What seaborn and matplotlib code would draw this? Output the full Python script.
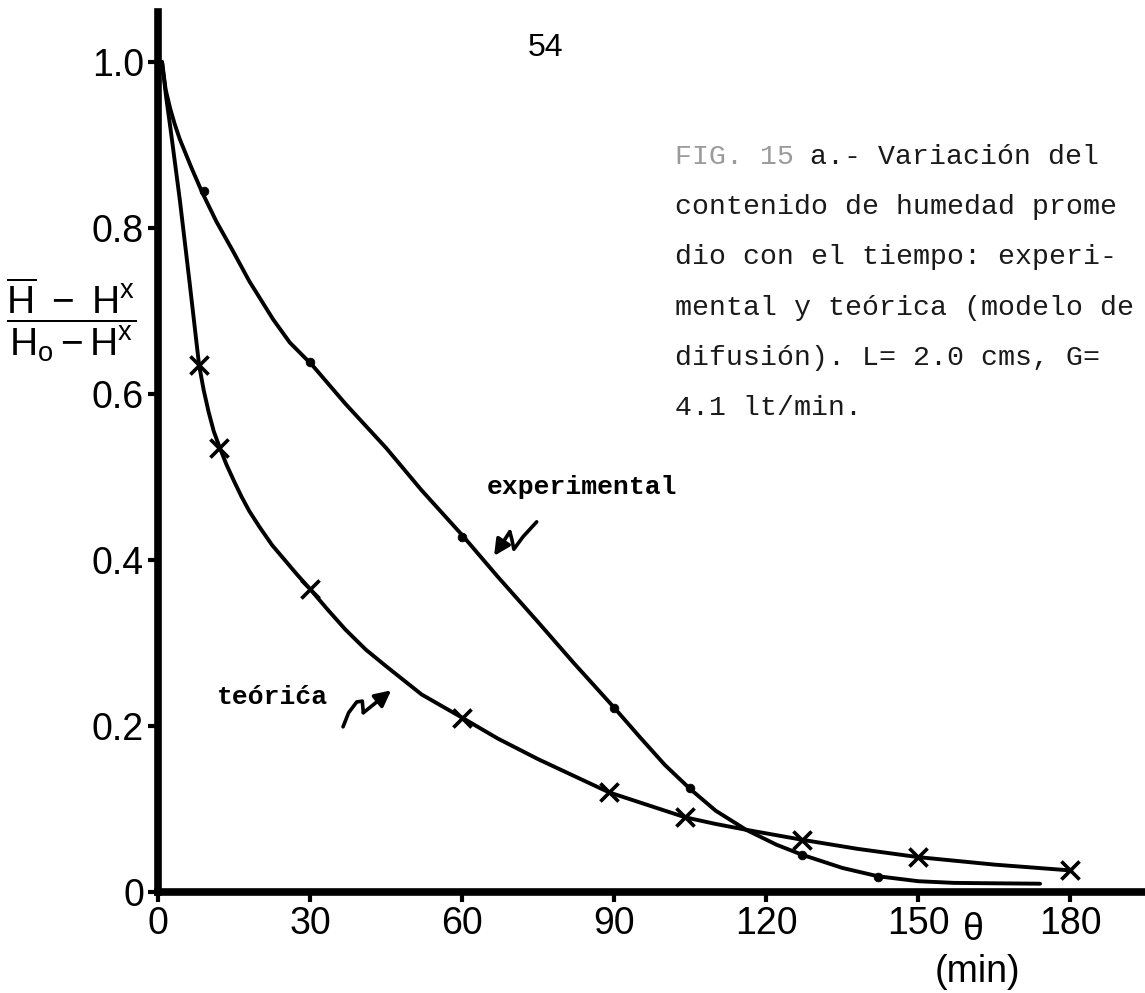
import matplotlib
matplotlib.use("Agg")
import matplotlib.pyplot as plt
import seaborn as sns

# ---------------- data ----------------
# experimental points (dots)
exp_t = [9, 30, 60, 90, 105, 127, 142]
exp_y = [0.845, 0.638, 0.428, 0.222, 0.125, 0.045, 0.018]
# hand-drawn experimental curve
exp_curve_t = [0.8, 1.5, 2.4, 3.3, 4.3, 6.5, 8.7, 11.5, 14.8, 18, 22.7, 26, 30.4,
               37, 45, 52, 60, 67, 75, 82, 90, 95, 100, 105, 110, 116, 122, 127,
               135, 142, 150, 157, 165, 174]
exp_curve_y = [1.0, 0.967, 0.944, 0.925, 0.907, 0.874, 0.843, 0.808, 0.772, 0.736,
               0.69, 0.662, 0.635, 0.588, 0.535, 0.484, 0.43, 0.38, 0.325, 0.276,
               0.222, 0.187, 0.153, 0.124, 0.098, 0.075, 0.057, 0.045, 0.029,
               0.019, 0.013, 0.011, 0.0105, 0.01]

# theoretical points (crosses)
teo_t = [8, 12, 30, 60, 89, 104, 127, 150, 180]
teo_y = [0.635, 0.535, 0.365, 0.21, 0.12, 0.09, 0.063, 0.042, 0.026]
# hand-drawn theoretical curve
teo_curve_t = [0.8, 1.6, 2.5, 4.3, 6.2, 8.1, 9, 10, 11, 12.2, 13.5, 15, 16.5, 18,
               20, 22.5, 25, 27.5, 30, 33.5, 37, 41, 45, 52, 60, 67, 75, 82, 89,
               97, 104, 110, 116, 127, 138, 150, 165, 180]
teo_curve_y = [1.0, 0.958, 0.918, 0.834, 0.736, 0.635, 0.605, 0.578, 0.555,
               0.535, 0.515, 0.495, 0.476, 0.459, 0.44, 0.418, 0.40, 0.382, 0.365,
               0.34, 0.316, 0.292, 0.272, 0.238, 0.21, 0.185, 0.16, 0.14, 0.12,
               0.104, 0.09, 0.082, 0.075, 0.063, 0.052, 0.042, 0.033, 0.026]

x_ticks = [0, 30, 60, 90, 120, 150, 180]
x_tick_labels = ["0", "30", "60", "90", "120", "150", "180"]
y_ticks = [0, 0.2, 0.4, 0.6, 0.8, 1.0]
y_tick_labels = ["0", "0.2", "0.4", "0.6", "0.8", "1.0"]

caption_fig = "FIG. 15"
caption_first = "a.- Variación del"
caption_lines = [
    "contenido de humedad prome",
    "dio con el tiempo: experi-",
    "mental y teórica (modelo de",
    "difusión). L= 2.0 cms, G=",
    "4.1 lt/min.",
]

# squiggly pointer arrows (annotation decorations)
exp_arrow_t = [74.7, 72.0, 70.2, 69.8, 69.4, 66.3]
exp_arrow_y = [0.446, 0.428, 0.413, 0.425, 0.434, 0.405]
teo_arrow_t = [36.5, 37.6, 39.2, 40.3, 40.5, 46.0]
teo_arrow_y = [0.199, 0.216, 0.229, 0.230, 0.216, 0.243]

# ---------------- drawing ----------------
sns.set_theme(style="ticks")
sans = ["Liberation Sans Narrow", "Liberation Sans", "DejaVu Sans"]
mono = ["Liberation Mono", "DejaVu Sans Mono"]
plt.rcParams["font.family"] = sans
plt.rcParams["mathtext.fontset"] = "custom"
plt.rcParams["mathtext.rm"] = "Liberation Sans"
plt.rcParams["mathtext.it"] = "Liberation Sans"

W, H = 1145, 993
fig = plt.figure(figsize=(W / 100, H / 100), dpi=100)
fig.patch.set_facecolor("white")
ax = fig.add_axes([0.138, 0.1017, 0.862, 0.886])
ax.set_facecolor("white")

sns.lineplot(x=exp_curve_t, y=exp_curve_y, sort=False, estimator=None,
             color="black", lw=2.8, ax=ax)
sns.lineplot(x=teo_curve_t, y=teo_curve_y, sort=False, estimator=None,
             color="black", lw=2.8, ax=ax)
sns.scatterplot(x=exp_t, y=exp_y, marker="o", s=40, color="black",
                edgecolor="black", ax=ax, zorder=3)
sns.scatterplot(x=teo_t, y=teo_y, marker="x", s=170, color="black",
                linewidth=2.6, ax=ax, zorder=3)

ax.set_xlim(0, 194.7)
ax.set_ylim(0, 1.06)
ax.set_xticks(x_ticks)
ax.set_xticklabels(x_tick_labels)
ax.set_yticks(y_ticks)
ax.set_yticklabels(y_tick_labels)
ax.tick_params(axis="both", direction="out", length=7, width=3, color="black",
               labelsize=27, pad=3, labelcolor="black")
for lab in ax.get_xticklabels() + ax.get_yticklabels():
    lab.set_family(sans)
for side in ["top", "right"]:
    ax.spines[side].set_visible(False)
for side in ["left", "bottom"]:
    ax.spines[side].set_linewidth(5.5)
    ax.spines[side].set_color("black")
ax.set_xlabel("")
ax.set_ylabel("")

# y-axis label (fraction)
fig.text(71 / W, 1 - 320 / H,
         r"$\dfrac{\overline{\mathrm{H}}\ -\ \mathrm{H}^{\mathrm{x}}}"
         r"{\mathrm{H}_{\mathrm{o}}-\mathrm{H}^{\mathrm{x}}}$",
         fontsize=28, ha="center", va="center", color="black")

# x-axis label
fig.text(973 / W, 1 - 930 / H, "θ", fontsize=27, ha="center",
         va="center", family=sans, color="black")
fig.text(977 / W, 1 - 972 / H, "(min)", fontsize=27, ha="center",
         va="center", family=sans, color="black")

# page number
fig.text(546 / W, 1 - 48 / H, "54", fontsize=23, ha="center",
         va="center", family=sans, color="black")

# curve labels
fig.text(487 / W, 1 - 487 / H, "experimental", fontsize=19,
         family=mono, weight="bold", ha="left", va="center", color="black")
fig.text(217 / W, 1 - 697 / H, "teórića", fontsize=19,
         family=mono, weight="bold", ha="left", va="center", color="black")

# squiggle arrows
for at, ay in [(exp_arrow_t, exp_arrow_y), (teo_arrow_t, teo_arrow_y)]:
    ax.plot(at[:-1], ay[:-1], color="black", lw=2.6, solid_capstyle="round",
            solid_joinstyle="round")
    ax.annotate("", xy=(at[-1], ay[-1]), xytext=(at[-2], ay[-2]),
                arrowprops=dict(arrowstyle="-|>", color="black", lw=2.6,
                                mutation_scale=24, shrinkA=0, shrinkB=0))

# caption block (typewriter, monospace pitch ~17 px)
cap_fs = 20.3
pitch = 0.6 * cap_fs * 100 / 72
cap_x = 675
cap_y0 = 157
cap_dy = 50.2
fig.text(cap_x / W, 1 - cap_y0 / H, caption_fig, fontsize=cap_fs, family=mono,
         ha="left", va="center", color="#9a9a9a")
fig.text((cap_x + 8 * pitch) / W, 1 - cap_y0 / H, caption_first,
         fontsize=cap_fs, family=mono, ha="left", va="center", color="#1a1a1a")
for i, line in enumerate(caption_lines, start=1):
    fig.text(cap_x / W, 1 - (cap_y0 + i * cap_dy) / H, line, fontsize=cap_fs,
             family=mono, ha="left", va="center", color="#1a1a1a")

fig.savefig("out.png", dpi=100, facecolor="white")
